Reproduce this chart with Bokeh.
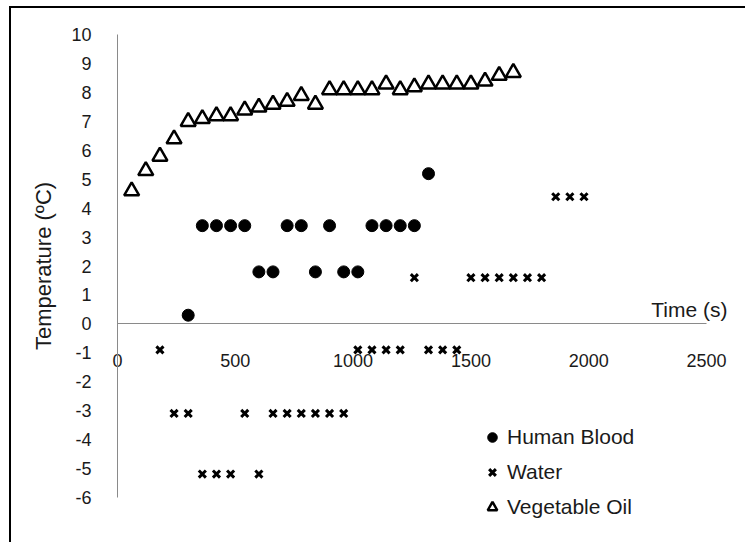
from bokeh.plotting import figure
from bokeh.models import FixedTicker, Legend, LegendItem, Label
from bokeh.embed import file_html
from bokeh.resources import INLINE

# Readings (time in seconds, temperature in ºC)
blood_time = [300, 360, 420, 480, 540, 600, 660, 720, 780, 840, 900, 960,
              1020, 1080, 1140, 1200, 1260, 1320]
blood_temp = [0.3, 3.4, 3.4, 3.4, 3.4, 1.8, 1.8, 3.4, 3.4, 1.8, 3.4, 1.8,
              1.8, 3.4, 3.4, 3.4, 3.4, 5.2]

water_time = [180, 240, 300, 360, 420, 480, 540, 600, 660, 720, 780, 840,
              900, 960, 1020, 1080, 1140, 1200, 1260, 1320, 1380, 1440,
              1500, 1560, 1620, 1680, 1740, 1800, 1860, 1920, 1980]
water_temp = [-0.9, -3.1, -3.1, -5.2, -5.2, -5.2, -3.1, -5.2, -3.1, -3.1,
              -3.1, -3.1, -3.1, -3.1, -0.9, -0.9, -0.9, -0.9, 1.6, -0.9,
              -0.9, -0.9, 1.6, 1.6, 1.6, 1.6, 1.6, 1.6, 4.4, 4.4, 4.4]

oil_time = [60, 120, 180, 240, 300, 360, 420, 480, 540, 600, 660, 720,
            780, 840, 900, 960, 1020, 1080, 1140, 1200, 1260, 1320, 1380,
            1440, 1500, 1560, 1620, 1680]
oil_temp = [4.6, 5.3, 5.8, 6.4, 7.0, 7.1, 7.2, 7.2, 7.4, 7.5, 7.6, 7.7,
            7.9, 7.6, 8.1, 8.1, 8.1, 8.1, 8.3, 8.1, 8.2, 8.3, 8.3, 8.3,
            8.3, 8.4, 8.6, 8.7]

x_ticks = [0, 500, 1000, 1500, 2000, 2500]
y_ticks = [-6, -5, -4, -3, -2, -1, 0, 1, 2, 3, 4, 5, 6, 7, 8, 9, 10]

FONT = "Liberation Sans"
AXIS_GREY = "#8a8a8a"
TEXT = "#1a1a1a"

# The plotting frame fills the whole canvas; both axes are pinned at 0 and
# bounded to the data extent, so labels outside the data box stay visible.
p = figure(
    width=736, height=536,
    min_border_left=0, min_border_right=0,
    min_border_top=0, min_border_bottom=0,
    x_range=(-450, 2674), y_range=(-7.637, 10.917),
    output_backend="svg", toolbar_location=None,
    styles={"margin-left": "9px", "margin-top": "6px",
            "border-left": "2px solid black", "border-top": "2px solid black"},
)
p.grid.visible = False
p.outline_line_color = None

p.xaxis.fixed_location = 0
p.yaxis.fixed_location = 0
p.xaxis.bounds = (0, 2500)
p.yaxis.bounds = (-6, 10)
p.xaxis.ticker = FixedTicker(ticks=x_ticks)
p.xaxis.major_label_overrides = {t: str(t) for t in x_ticks}
p.yaxis.ticker = FixedTicker(ticks=y_ticks)
p.yaxis.major_label_overrides = {t: str(t) for t in y_ticks}

for ax in (p.xaxis, p.yaxis):
    ax.axis_line_color = AXIS_GREY
    ax.axis_line_width = 1
    ax.major_tick_line_color = None
    ax.minor_tick_line_color = None
    ax.major_label_text_font = FONT
    ax.major_label_text_font_size = "18px"
    ax.major_label_text_color = TEXT
p.xaxis.major_label_standoff = 24
p.yaxis.major_label_standoff = 20

p.yaxis.axis_label = "Temperature (ºC)"
p.yaxis.axis_label_text_font = FONT
p.yaxis.axis_label_text_font_size = "22px"
p.yaxis.axis_label_text_font_style = "normal"
p.yaxis.axis_label_text_color = TEXT
p.yaxis.axis_label_standoff = 12

r_blood = p.scatter(blood_time, blood_temp, marker="circle", size=12,
                    fill_color="black", line_color="black")
r_water = p.scatter(water_time, water_temp, marker="x", size=10,
                    line_color="black", line_width=3)
r_oil = p.scatter(oil_time, oil_temp, marker="triangle", size=15,
                  fill_color="white", line_color="black", line_width=2.5)

p.add_layout(Label(x=2500, y=0, text="Time (s)", x_offset=21, y_offset=3,
                   text_align="right", text_baseline="bottom",
                   text_font=FONT, text_font_size="21px", text_color=TEXT))

legend = Legend(
    items=[LegendItem(label="Human Blood", renderers=[r_blood]),
           LegendItem(label="Water", renderers=[r_water]),
           LegendItem(label="Vegetable Oil", renderers=[r_oil])],
    location=(469, 25),
    glyph_width=24, glyph_height=24, label_height=24,
    spacing=11, padding=0, margin=0, label_standoff=3,
    border_line_color=None, background_fill_alpha=0,
    label_text_font=FONT, label_text_font_size="21px",
    label_text_color=TEXT,
)
p.add_layout(legend, "center")

open("out.html", "w").write(file_html(p, INLINE))
